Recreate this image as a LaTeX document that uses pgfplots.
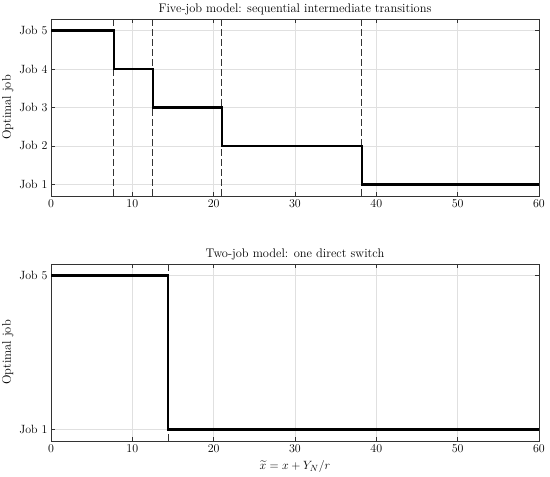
\documentclass[border=0pt]{standalone}
\usepackage{pgfplots}
\pgfplotsset{compat=1.18}
\usepackage{amsmath}
\definecolor{gridc}{gray}{0.88}
\definecolor{axc}{gray}{0.2}
\pgfplotsset{
  myax/.style={
    scale only axis, width=488bp, height=177bp,
    xmin=0, xmax=60, ymin=0.7, ymax=5.3,
    xtick={0,10,20,30,40,50,60},
    grid=major, major grid style={gridc, line width=0.5pt},
    axis line style={axc, line width=0.5pt},
    tick style={axc, line width=0.5pt},
    tick align=inside, major tick length=4bp,
    ticklabel style={font=\fontsize{12}{13}\selectfont},
    title style={font=\fontsize{12.5}{14}\selectfont, yshift=-6bp},
    every axis y label/.style={at={(ticklabel cs:0.5)}, rotate=90, anchor=south, yshift=-1bp, font=\fontsize{12.5}{14}\selectfont},
    every axis x label/.style={at={(ticklabel cs:0.5)}, anchor=north, yshift=-1bp, font=\fontsize{12.5}{14}\selectfont},
  }
}
\tikzset{dl/.style={black!80, line width=0.8pt, dash pattern=on 6.5bp off 3.5bp}}
\begin{document}
\begin{tikzpicture}
\useasboundingbox (0,0) rectangle (550bp,477bp);
\begin{axis}[myax, at={(51bp,281bp)}, anchor=south west,
  ytick={1,2,3,4,5}, yticklabels={Job 1,Job 2,Job 3,Job 4,Job 5},
  title={Five-job model: sequential intermediate transitions},
  ylabel={Optimal job}]
\addplot[dl] coordinates {(7.7,0.7)(7.7,5.3)};
\addplot[dl] coordinates {(12.5,0.7)(12.5,5.3)};
\addplot[dl] coordinates {(21.0,0.7)(21.0,5.3)};
\addplot[dl] coordinates {(38.2,0.7)(38.2,5.3)};
\addplot[black, line width=2.2bp, const plot mark left, line join=miter] coordinates {(0,5)(7.7,4)(12.5,3)(21.0,2)(38.2,1)(60,1)};
\end{axis}
\begin{axis}[myax, at={(51bp,36bp)}, anchor=south west,
  ytick={1,5}, yticklabels={Job 1,Job 5},
  title={Two-job model: one direct switch},
  ylabel={Optimal job},
  xlabel={$\widetilde{x} = x + Y_N/r$}]
\addplot[dl] coordinates {(14.4,0.7)(14.4,5.3)};
\addplot[black, line width=2.2bp, const plot mark left, line join=miter] coordinates {(0,5)(14.4,1)(60,1)};
\end{axis}
\end{tikzpicture}
\end{document}
